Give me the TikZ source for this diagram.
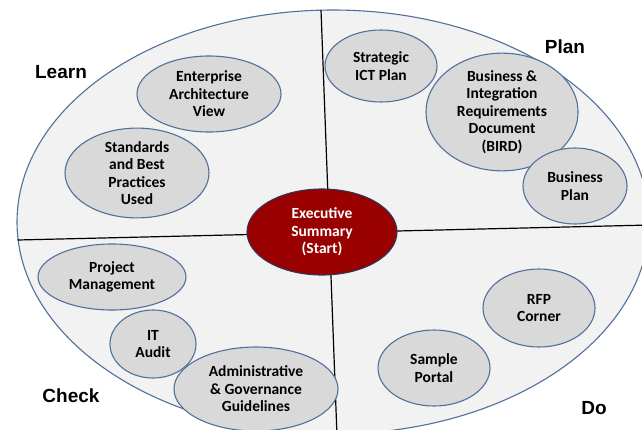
\documentclass[tikz,border=0pt]{standalone}
\usepackage{fontspec}
\setmainfont{Carlito}
\newfontfamily\labelfont{Liberation Sans}
\usetikzlibrary{shapes.geometric}

\definecolor{ringfill}{HTML}{F2F2F2}
\definecolor{ringline}{HTML}{52709A}
\definecolor{itemfill}{HTML}{D9D9D9}
\definecolor{startred}{HTML}{990000}
\definecolor{startline}{HTML}{33335C}

\begin{document}
\begin{tikzpicture}[x=1pt,y=-1pt,
    item/.style={ellipse, draw=ringline, line width=1.1pt, fill=itemfill,
      inner sep=0pt, align=center,
      font=\fontsize{15.5}{17.5}\selectfont\bfseries},
    phase/.style={font=\labelfont\fontsize{19}{22}\selectfont\bfseries}]
    \useasboundingbox (0,0) rectangle (642,429);
    \clip (0,0) rectangle (642,429);

    % Outer ring
    \draw[ringline, line width=1.1pt, fill=ringfill] (333,222) ellipse [x radius=316, y radius=212];

    % Dividers between the four phases
    \coordinate (topend) at (321,10);
    \coordinate (botend) at (337,436);
    \coordinate (leftend) at (17.5,240);
    \coordinate (rightend) at (650,225);
    \draw[black, line width=1.2pt] (topend) -- (botend);
    \draw[black, line width=1.2pt] (leftend) -- (rightend);

    % Learn
    \node[item, minimum width=144pt, minimum height=76pt] (eav) at (209,94) {Enterprise\\Architecture\\View};
    \node[item, minimum width=144pt, minimum height=70pt] (sbp) at (137,173) {Standards\\and Best\\Practices\\Used};

    % Plan
    \node[item, minimum width=112pt, minimum height=72pt] (ict) at (381,66) {Strategic\\ICT Plan};
    \node[item, minimum width=152pt, minimum height=100pt] (bird) at (502,112) {Business \&\\Integration\\Requirements\\Document\\(BIRD)};
    \node[item, minimum width=104pt, minimum height=76pt] (bplan) at (575,186) {Business\\Plan};

    % Do
    \node[item, minimum width=112pt, minimum height=78pt] (rfp) at (539,308) {RFP\\Corner};
    \node[item, minimum width=112pt, minimum height=76pt] (portal) at (434,368) {Sample\\Portal};

    % Check
    \node[item, minimum width=148pt, minimum height=66pt] (pm) at (112,277) {Project\\Management};
    \node[item, minimum width=86pt, minimum height=68pt] (audit) at (153,344) {IT\\Audit};
    \node[item, minimum width=164pt, minimum height=84pt] (admin) at (256,389) {Administrative\\\& Governance\\Guidelines};

    % Start
    \node[item, draw=startline, fill=startred, text=white, minimum width=150pt, minimum height=86pt] (start) at (322,232) {Executive\\Summary\\(Start)};

    % Phase labels
    \node[phase] (learn) at (61,72) {Learn};
    \node[phase] (plan) at (565,47) {Plan};
    \node[phase] (check) at (71,396) {Check};
    \node[phase] (do) at (594,408) {Do};
\end{tikzpicture}
\end{document}
